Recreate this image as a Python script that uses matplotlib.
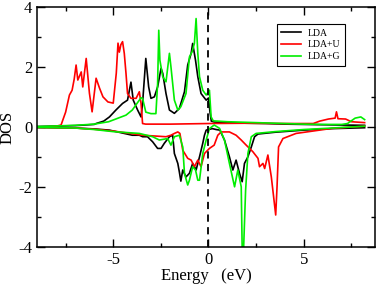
import numpy as np
import matplotlib
matplotlib.use("Agg")
import matplotlib.pyplot as plt
from matplotlib.ticker import MultipleLocator

plt.rcParams["font.family"] = ["Liberation Serif", "DejaVu Serif"]

# spin up, LDA
lda_up_e = [-9, -7, -6, -5.9, -5.5, -5.2, -4.86, -4.51, -4.25, -4.07, -3.95, -3.72, -3.54, -3.46,
            -3.29, -3.14, -3.02, -2.84, -2.67, -2.49, -2.4, -2.23, -2.05, -1.79, -1.53, -1.26,
            -1.09, -0.91, -0.83, -0.68, -0.56, -0.39, -0.12, 0.0, 0.08, 0.15, 0.3, 1, 2, 3, 4,
            5, 6, 7, 8.2]
lda_up_dos = [0.02, 0.05, 0.09, 0.12, 0.2, 0.34, 0.57, 0.79, 0.9, 1.5, 0.9, 0.57, 0.34, 0.79,
              2.29, 1.34, 0.96, 1.01, 1.34, 1.96, 1.79, 1.12, 0.57, 0.46, 0.62, 1.18,
              2.07, 2.46, 2.79, 2.23, 1.68, 1.12, 0.9, 0.97, 0.5, 0.2, 0.17, 0.15, 0.13, 0.12, 0.1,
              0.09, 0.08, 0.07, 0.06]

# spin up, LDA+U
ldau_up_e = [-9, -8.5, -8.0, -7.74, -7.5, -7.3, -7.16, -7.05, -6.95, -6.86, -6.68, -6.6, -6.42,
             -6.25, -6.11, -5.9, -5.72, -5.54, -5.28, -5.0, -4.84, -4.75, -4.68, -4.6, -4.51,
             -4.42, -4.33, -4.25, -4.07, -3.8, -3.63, -3.54, -3.46, -3.3, -2, 0, 2, 4, 5.5,
             5.84, 6.3, 6.65, 6.72, 6.8, 7.2, 7.5, 8.2]
ldau_up_dos = [0.0, 0.01, 0.03, 0.07, 0.5, 1.07, 1.23, 1.6, 2.07, 1.57, 1.84, 1.34, 2.29,
               1.13, 0.51, 1.63, 1.3, 1.01, 0.84, 0.8, 1.8, 2.8, 2.5, 2.75, 2.85,
               2.46, 1.79, 1.12, 0.96, 0.96, 1.18, 0.79, 0.12, 0.1, 0.1, 0.12, 0.13, 0.12, 0.12,
               0.2, 0.27, 0.3, 0.51, 0.28, 0.27, 0.18, 0.15]

# spin up, LDA+G
ldag_up_e = [-9, -7, -6, -5.24, -4.33, -4.0, -3.54, -3.46, -3.29, -3.02, -2.76, -2.67, -2.61,
             -2.55, -2.4, -2.23, -2.05, -1.97, -1.79, -1.61, -1.45, -1.18, -1.0, -0.86, -0.74,
             -0.65, -0.56, -0.47, -0.3, -0.12, 0.0, 0.05, 0.14, 0.25, 1, 2, 3, 4, 5, 6, 7.0,
             7.3, 7.7, 8.0, 8.2]
ldag_up_dos = [0.02, 0.06, 0.1, 0.18, 0.4, 0.57, 0.98, 0.96, 0.5, 0.45, 0.45, 1.46, 3.23,
               2.23, 1.68, 1.51, 2.46, 2.01, 0.9, 0.57, 0.68, 1.12, 2.34, 2.51, 2.79,
               3.62, 2.46, 1.68, 1.23, 1.07, 1.18, 1.23, 0.34, 0.21, 0.18, 0.16, 0.14, 0.12, 0.1,
               0.09, 0.09, 0.12, 0.3, 0.34, 0.25]

# spin down, LDA
lda_dn_e = [-9, -7, -6, -5.2, -4.0, -3.63, -3.46, -3.2, -2.93, -2.67, -2.49, -2.32, -2.05,
            -1.88, -1.79, -1.61, -1.53, -1.45, -1.35, -1.18, -1.0, -0.83, -0.65, -0.47, -0.3,
            -0.21, -0.12, 0.0, 0.2, 0.4, 0.6, 0.84, 1.1, 1.28, 1.45, 1.63, 1.77, 1.89, 2.07,
            2.25, 2.42, 2.6, 3.5, 5, 6.5, 8.2]
lda_dn_dos = [-0.01, -0.03, -0.06, -0.1, -0.27, -0.27, -0.32, -0.32, -0.49, -0.71, -0.71, -0.54,
              -0.32, -0.27, -0.88, -1.21, -1.49, -1.8, -1.43, -1.66, -1.54, -1.21, -1.43, -0.99,
              -0.54, -0.27, -0.1, -0.08, -0.05, -0.08, -0.1, -0.43, -0.99, -1.43, -1.1, -1.54,
              -1.82, -1.21, -0.99, -0.66, -0.32, -0.23, -0.17, -0.1, -0.05, -0.02]

# spin down, LDA+U
ldau_dn_e = [-9, -7, -6, -5, -3.46, -2.23, -1.97, -1.79, -1.61, -1.5, -1.35, -1.09, -0.91,
             -0.74, -0.56, -0.39, -0.21, 0.05, 0.3, 0.49, 0.67, 1.1, 1.45, 1.72, 1.98, 2.33,
             2.6, 2.68, 2.86, 2.95, 3.12, 3.3, 3.42, 3.53, 3.6, 3.68, 3.91, 4.6, 6.5, 8.2]
ldau_dn_dos = [-0.01, -0.03, -0.07, -0.13, -0.27, -0.32, -0.27, -0.21, -0.16, -0.21, -0.77,
               -1.04, -1.1, -1.32, -1.1, -1.32, -0.88, -0.71, -0.6, -0.27, -0.16, -0.16, -0.27,
               -0.43, -0.6, -0.82, -1.04, -1.32, -1.21, -1.38, -0.93, -1.66, -2.32, -2.93,
               -1.99, -0.66, -0.38, -0.21, -0.04, 0.03]

# spin down, LDA+G
ldag_dn_e = [-9, -7, -6, -5, -3.63, -2.93, -2.58, -2.14, -1.97, -1.79, -1.53, -1.35, -1.26,
             -1.09, -1.0, -0.83, -0.68, -0.56, -0.47, -0.3, -0.12, 0.05, 0.3, 0.58, 0.84, 1.1,
             1.37, 1.54, 1.72, 1.78, 1.82, 1.95, 2.07, 2.25, 2.5, 3.5, 5, 6.5, 8.2]
ldag_dn_dos = [-0.01, -0.03, -0.08, -0.15, -0.21, -0.32, -0.43, -0.38, -0.6, -0.32, -0.27,
               -0.66, -1.54, -1.93, -1.77, -1.32, -1.43, -1.77, -1.77, -0.88, -0.43, -0.05,
               0.07, -0.04, -0.43, -1.21, -1.99, -1.43, -1.99, -4.5, -4.5, -2.1, -0.88, -0.32,
               -0.21, -0.15, -0.08, -0.03, 0.03]

fig = plt.figure(figsize=(3.82, 2.86), dpi=100)
ax = fig.add_axes([0.097, 0.136, 0.885, 0.839])

lw = 1.2
ax.plot(lda_up_e, lda_up_dos, color="black", lw=lw, label="LDA")
ax.plot(lda_dn_e, lda_dn_dos, color="black", lw=lw)
ax.plot(ldau_up_e, ldau_up_dos, color="red", lw=lw, label="LDA+U")
ax.plot(ldau_dn_e, ldau_dn_dos, color="red", lw=lw)
ax.plot(ldag_up_e, ldag_up_dos, color="#00ee00", lw=lw, label="LDA+G")
ax.plot(ldag_dn_e, ldag_dn_dos, color="#00ee00", lw=lw)
ax.axvline(0, color="black", lw=1.3, ls=(0, (4, 3)))

ax.set_xlim(-9, 8.75)
ax.set_ylim(-4, 4)
ax.xaxis.set_major_locator(MultipleLocator(5))
ax.xaxis.set_minor_locator(MultipleLocator(2.5))
ax.yaxis.set_major_locator(MultipleLocator(2))
ax.yaxis.set_minor_locator(MultipleLocator(1))
ax.tick_params(which="both", direction="in", top=True, right=True, labelsize=12, width=1.0)
ax.tick_params(which="major", length=6)
ax.tick_params(which="minor", length=3)
for s in ax.spines.values():
    s.set_linewidth(1.1)
ax.set_xticks([-5, 0, 5])
ax.set_xticklabels(["-5", "0", "5"])
ax.set_yticks([-4, -2, 0, 2, 4])
ax.set_yticklabels(["-4", "-2", "0", "2", "4"])
ax.set_xlabel("Energy   (eV)", fontsize=12, labelpad=0)
ax.set_ylabel("DOS", fontsize=12, labelpad=2)

leg = ax.legend(loc="upper left", bbox_to_anchor=(0.71, 0.929), borderaxespad=0,
                fontsize=7, handlelength=2.0, handletextpad=0.7, labelspacing=0.3,
                fancybox=False, framealpha=1, edgecolor="black", borderpad=0.45)
leg.get_frame().set_linewidth(0.8)

fig.savefig("out.png", dpi=100)
